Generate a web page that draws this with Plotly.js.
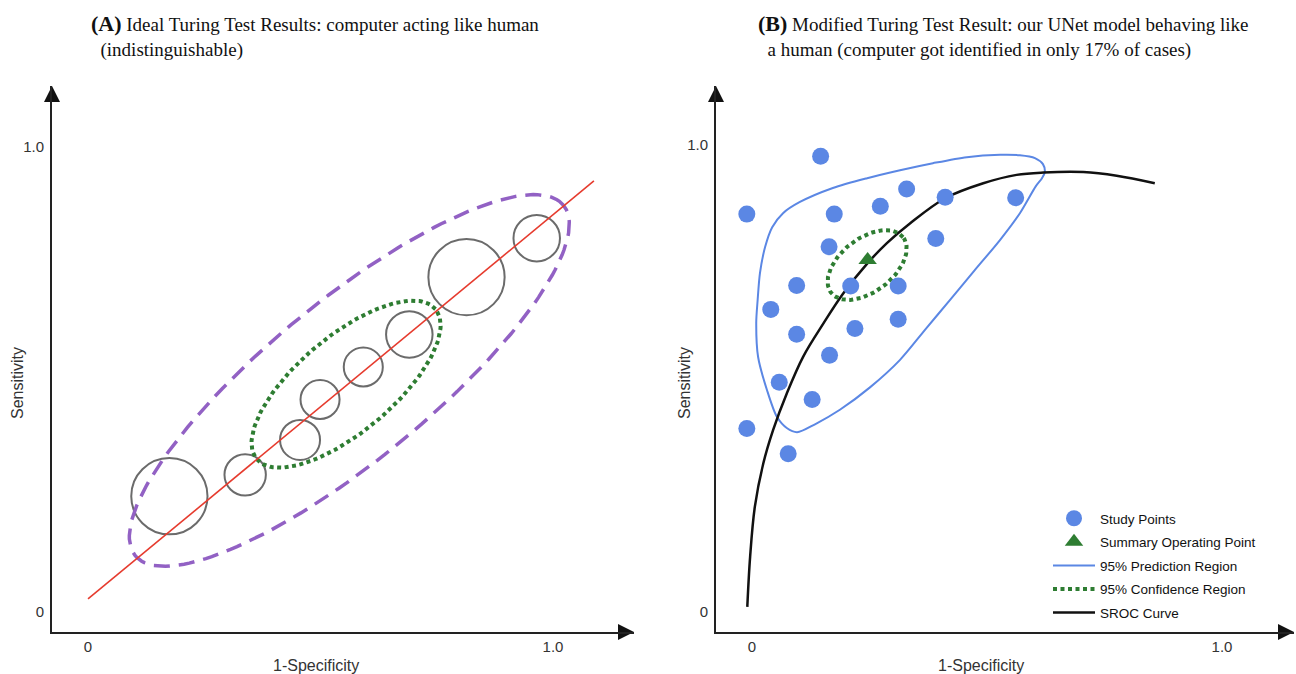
<!DOCTYPE html>
<html>
<head>
<meta charset="utf-8">
<script src="https://cdn.plot.ly/plotly-3.0.1.min.js"></script>
<style>html,body{margin:0;padding:0;background:#fff;}#chart{width:1296px;height:674px;}</style>
</head>
<body>
<div id="chart"></div>
<script>
// ---------- Panel A data ----------
const idealLineX = [0.0, 1.088];
const idealLineY = [0.028, 0.927];
const studyCircleX = [0.175, 0.338, 0.456, 0.499, 0.592, 0.691, 0.814, 0.965];
const studyCircleY = [0.249, 0.295, 0.370, 0.457, 0.527, 0.597, 0.720, 0.804];
const studyCircleR = [0.082, 0.0445, 0.043, 0.042, 0.042, 0.050, 0.082, 0.050];
// ellipses: [centerX, centerY, semiMajor, semiMinor, angleDeg]
const predEllipseA = [0.562, 0.498, 0.595, 0.172, 39.3];
const confEllipseA = [0.555, 0.490, 0.251, 0.103, 40];

// ---------- Panel B data ----------
const studyPointX = [0.146, -0.011, 0.175, 0.273, 0.329, 0.411, 0.561, 0.164, 0.391, 0.095, 0.210,
                     0.311, 0.040, 0.095, 0.219, 0.311, 0.165, 0.058, 0.128, -0.011, 0.077];
const studyPointY = [0.976, 0.852, 0.852, 0.869, 0.906, 0.888, 0.887, 0.782, 0.800, 0.699, 0.698,
                     0.698, 0.648, 0.595, 0.607, 0.627, 0.550, 0.492, 0.455, 0.393, 0.339];
const summaryX = [0.246];
const summaryY = [0.754];
const predRegionX = [0.623, 0.619, 0.602, 0.570, 0.528, 0.457, 0.385, 0.315, 0.245, 0.172, 0.102, 0.066,
                     0.043, 0.028, 0.017, 0.012, 0.009, 0.013, 0.032, 0.053, 0.074, 0.096, 0.134, 0.187,
                     0.251, 0.315, 0.368, 0.421, 0.474, 0.528, 0.570, 0.604, 0.617, 0.623];
const predRegionY = [0.942, 0.959, 0.972, 0.978, 0.979, 0.974, 0.961, 0.946, 0.929, 0.908, 0.878, 0.854,
                     0.824, 0.782, 0.726, 0.668, 0.619, 0.546, 0.475, 0.418, 0.394, 0.385, 0.402, 0.433,
                     0.481, 0.540, 0.604, 0.668, 0.732, 0.797, 0.854, 0.912, 0.929, 0.942];
const srocX = [-0.010, -0.004, 0.006, 0.024, 0.045, 0.074, 0.109, 0.152, 0.194, 0.246, 0.287, 0.336,
               0.411, 0.492, 0.563, 0.620, 0.705, 0.776, 0.857];
const srocY = [0.011, 0.118, 0.225, 0.318, 0.390, 0.468, 0.547, 0.618, 0.682, 0.747, 0.790, 0.832,
               0.886, 0.918, 0.936, 0.941, 0.942, 0.934, 0.918];
const confEllipseB = [0.245, 0.743, 0.097, 0.057, 38];

const tickVals = [0, 1];
const tickText = ['0', '1.0'];
const xTitle = '1-Specificity';
const yTitle = 'Sensitivity';
const titleA = '<span style="font-size:22px"><b>(A)</b></span> Ideal Turing Test Results: computer acting like human<br>&nbsp;&nbsp;(indistinguishable)';
const titleB = '<span style="font-size:22px"><b>(B)</b></span> Modified Turing Test Result: our UNet model behaving like<br>&nbsp;&nbsp;a human (computer got identified in only 17% of cases)';

function ellipse(p) {
  const [cx, cy, a, b, deg] = p;
  const th = deg * Math.PI / 180;
  const xs = [], ys = [];
  for (let i = 0; i <= 180; i++) {
    const t = 2 * Math.PI * i / 180;
    xs.push(cx + a * Math.cos(t) * Math.cos(th) - b * Math.sin(t) * Math.sin(th));
    ys.push(cy + a * Math.cos(t) * Math.sin(th) + b * Math.sin(t) * Math.cos(th));
  }
  return {x: xs, y: ys};
}

const W = 1296, H = 674;
// pixel geometry of each panel
const A = {x0: 52, xTip: 634, y0: 632, yTip: 86, px0: 88, sx: 465, py0: 612, sy: 465};
const B = {x0: 716, xTip: 1294, y0: 632, yTip: 86, px0: 752, sx: 470, py0: 612, sy: 467};
function rng(P) {
  return {
    xr: [(P.x0 - P.px0) / P.sx, (P.xTip - P.px0) / P.sx],
    yr: [(P.py0 - P.y0) / P.sy, (P.py0 - P.yTip) / P.sy],
    xd: [P.x0 / W, P.xTip / W],
    yd: [1 - P.y0 / H, 1 - P.yTip / H]
  };
}
const RA = rng(A), RB = rng(B);

const pe = ellipse(predEllipseA), ceA = ellipse(confEllipseA), ceB = ellipse(confEllipseB);
const blue = '#5b87e4', green = '#2e7d32';

function arrowTraces(R, xa, ya) {
  return [
    {x: [R.xr[1]], y: [R.yr[0]], mode: 'markers', cliponaxis: false, showlegend: false, hoverinfo: 'skip',
     marker: {symbol: 'arrow-right', size: 16, color: '#111', line: {width: 0}}, xaxis: xa, yaxis: ya},
    {x: [R.xr[0]], y: [R.yr[1]], mode: 'markers', cliponaxis: false, showlegend: false, hoverinfo: 'skip',
     marker: {symbol: 'arrow-up', size: 16, color: '#111', line: {width: 0}}, xaxis: xa, yaxis: ya}
  ];
}

const traces = [
  {x: pe.x, y: pe.y, mode: 'lines', line: {color: '#9261c4', width: 3.5, dash: '16px,9px'}, showlegend: false, hoverinfo: 'skip', xaxis: 'x', yaxis: 'y'},
  {x: ceA.x, y: ceA.y, mode: 'lines', line: {color: green, width: 4, dash: '4px,3.5px'}, showlegend: false, hoverinfo: 'skip', xaxis: 'x', yaxis: 'y'},
  {x: idealLineX, y: idealLineY, mode: 'lines', line: {color: '#e63b2e', width: 1.6}, showlegend: false, hoverinfo: 'skip', xaxis: 'x', yaxis: 'y'},
  {x: predRegionX, y: predRegionY, mode: 'lines', name: '95% Prediction Region', legendrank: 3, legendgroup: 'g3',
   line: {color: blue, width: 2, shape: 'spline', smoothing: 0.8}, xaxis: 'x2', yaxis: 'y2'},
  {x: srocX, y: srocY, mode: 'lines', name: 'SROC Curve', legendrank: 5, legendgroup: 'g5',
   line: {color: '#111', width: 2.5, shape: 'spline', smoothing: 1}, xaxis: 'x2', yaxis: 'y2'},
  {x: ceB.x, y: ceB.y, mode: 'lines', name: '95% Confidence Region', legendrank: 4, legendgroup: 'g4',
   line: {color: green, width: 4, dash: '4px,3.5px'}, xaxis: 'x2', yaxis: 'y2'},
  {x: studyPointX, y: studyPointY, mode: 'markers', name: 'Study Points', legendrank: 1, legendgroup: 'g1',
   marker: {color: blue, size: 17}, xaxis: 'x2', yaxis: 'y2'},
  {x: summaryX, y: summaryY, mode: 'markers', name: 'Summary Operating Point', legendrank: 2, legendgroup: 'g2',
   marker: {color: green, size: 16, symbol: 'triangle-up'}, xaxis: 'x2', yaxis: 'y2'},
  ...arrowTraces(RA, 'x', 'y'),
  ...arrowTraces(RB, 'x2', 'y2')
];

const shapes = studyCircleX.map((cx, i) => ({
  type: 'circle', xref: 'x', yref: 'y',
  x0: cx - studyCircleR[i], x1: cx + studyCircleR[i],
  y0: studyCircleY[i] - studyCircleR[i], y1: studyCircleY[i] + studyCircleR[i],
  line: {color: '#6b6b6b', width: 2}, layer: 'below'
}));

const tickFont = {family: 'Liberation Sans, Arial, sans-serif', size: 15, color: '#333'};
function axis(dom, r, anchor) {
  return {domain: dom, range: r, anchor: anchor, showgrid: false, zeroline: false, showline: true,
          linecolor: '#222', linewidth: 2, ticks: '', tickvals: tickVals, ticktext: tickText,
          tickfont: tickFont, fixedrange: true};
}
const xa = axis(RA.xd, RA.xr, 'y'); xa.ticklabelstandoff = 0;
const ya = axis(RA.yd, RA.yr, 'x'); ya.ticklabelstandoff = 3;
const xb = axis(RB.xd, RB.xr, 'y2'); xb.ticklabelstandoff = 0;
const yb = axis(RB.yd, RB.yr, 'x2'); yb.ticklabelstandoff = 3;

const labFont = {family: 'Liberation Sans, Arial, sans-serif', size: 16, color: '#333'};
const titleFont = {family: 'Liberation Serif, Times New Roman, serif', size: 19, color: '#111'};
const annotations = [
  {xref: 'paper', yref: 'paper', x: 316 / W, y: 1 - 665 / H, xanchor: 'center', yanchor: 'middle', text: xTitle, showarrow: false, font: labFont},
  {xref: 'paper', yref: 'paper', x: 981 / W, y: 1 - 665 / H, xanchor: 'center', yanchor: 'middle', text: xTitle, showarrow: false, font: labFont},
  {xref: 'paper', yref: 'paper', x: 17 / W, y: 1 - 383 / H, xanchor: 'center', yanchor: 'middle', text: yTitle, showarrow: false, font: labFont, textangle: -90},
  {xref: 'paper', yref: 'paper', x: 684 / W, y: 1 - 383 / H, xanchor: 'center', yanchor: 'middle', text: yTitle, showarrow: false, font: labFont, textangle: -90},
  {xref: 'paper', yref: 'paper', x: 89 / W, y: 1 - 9 / H, xanchor: 'left', yanchor: 'top', align: 'left',
   text: titleA, showarrow: false, font: titleFont},
  {xref: 'paper', yref: 'paper', x: 756 / W, y: 1 - 9 / H, xanchor: 'left', yanchor: 'top', align: 'left',
   text: titleB, showarrow: false, font: titleFont}
];

const layout = {
  width: W, height: H, margin: {l: 0, r: 0, t: 0, b: 0},
  paper_bgcolor: '#fff', plot_bgcolor: 'rgba(0,0,0,0)',
  xaxis: xa, yaxis: ya, xaxis2: xb, yaxis2: yb,
  shapes: shapes, annotations: annotations,
  showlegend: true,
  legend: {x: 1048 / W, y: 1 - 503 / H, xanchor: 'left', yanchor: 'top', bgcolor: 'rgba(0,0,0,0)',
           font: {family: 'Liberation Sans, Arial, sans-serif', size: 13.5, color: '#111'},
           itemwidth: 42, tracegroupgap: 3, itemsizing: 'trace'}
};

Plotly.newPlot('chart', traces, layout, {staticPlot: true, displayModeBar: false});
</script>
</body>
</html>
